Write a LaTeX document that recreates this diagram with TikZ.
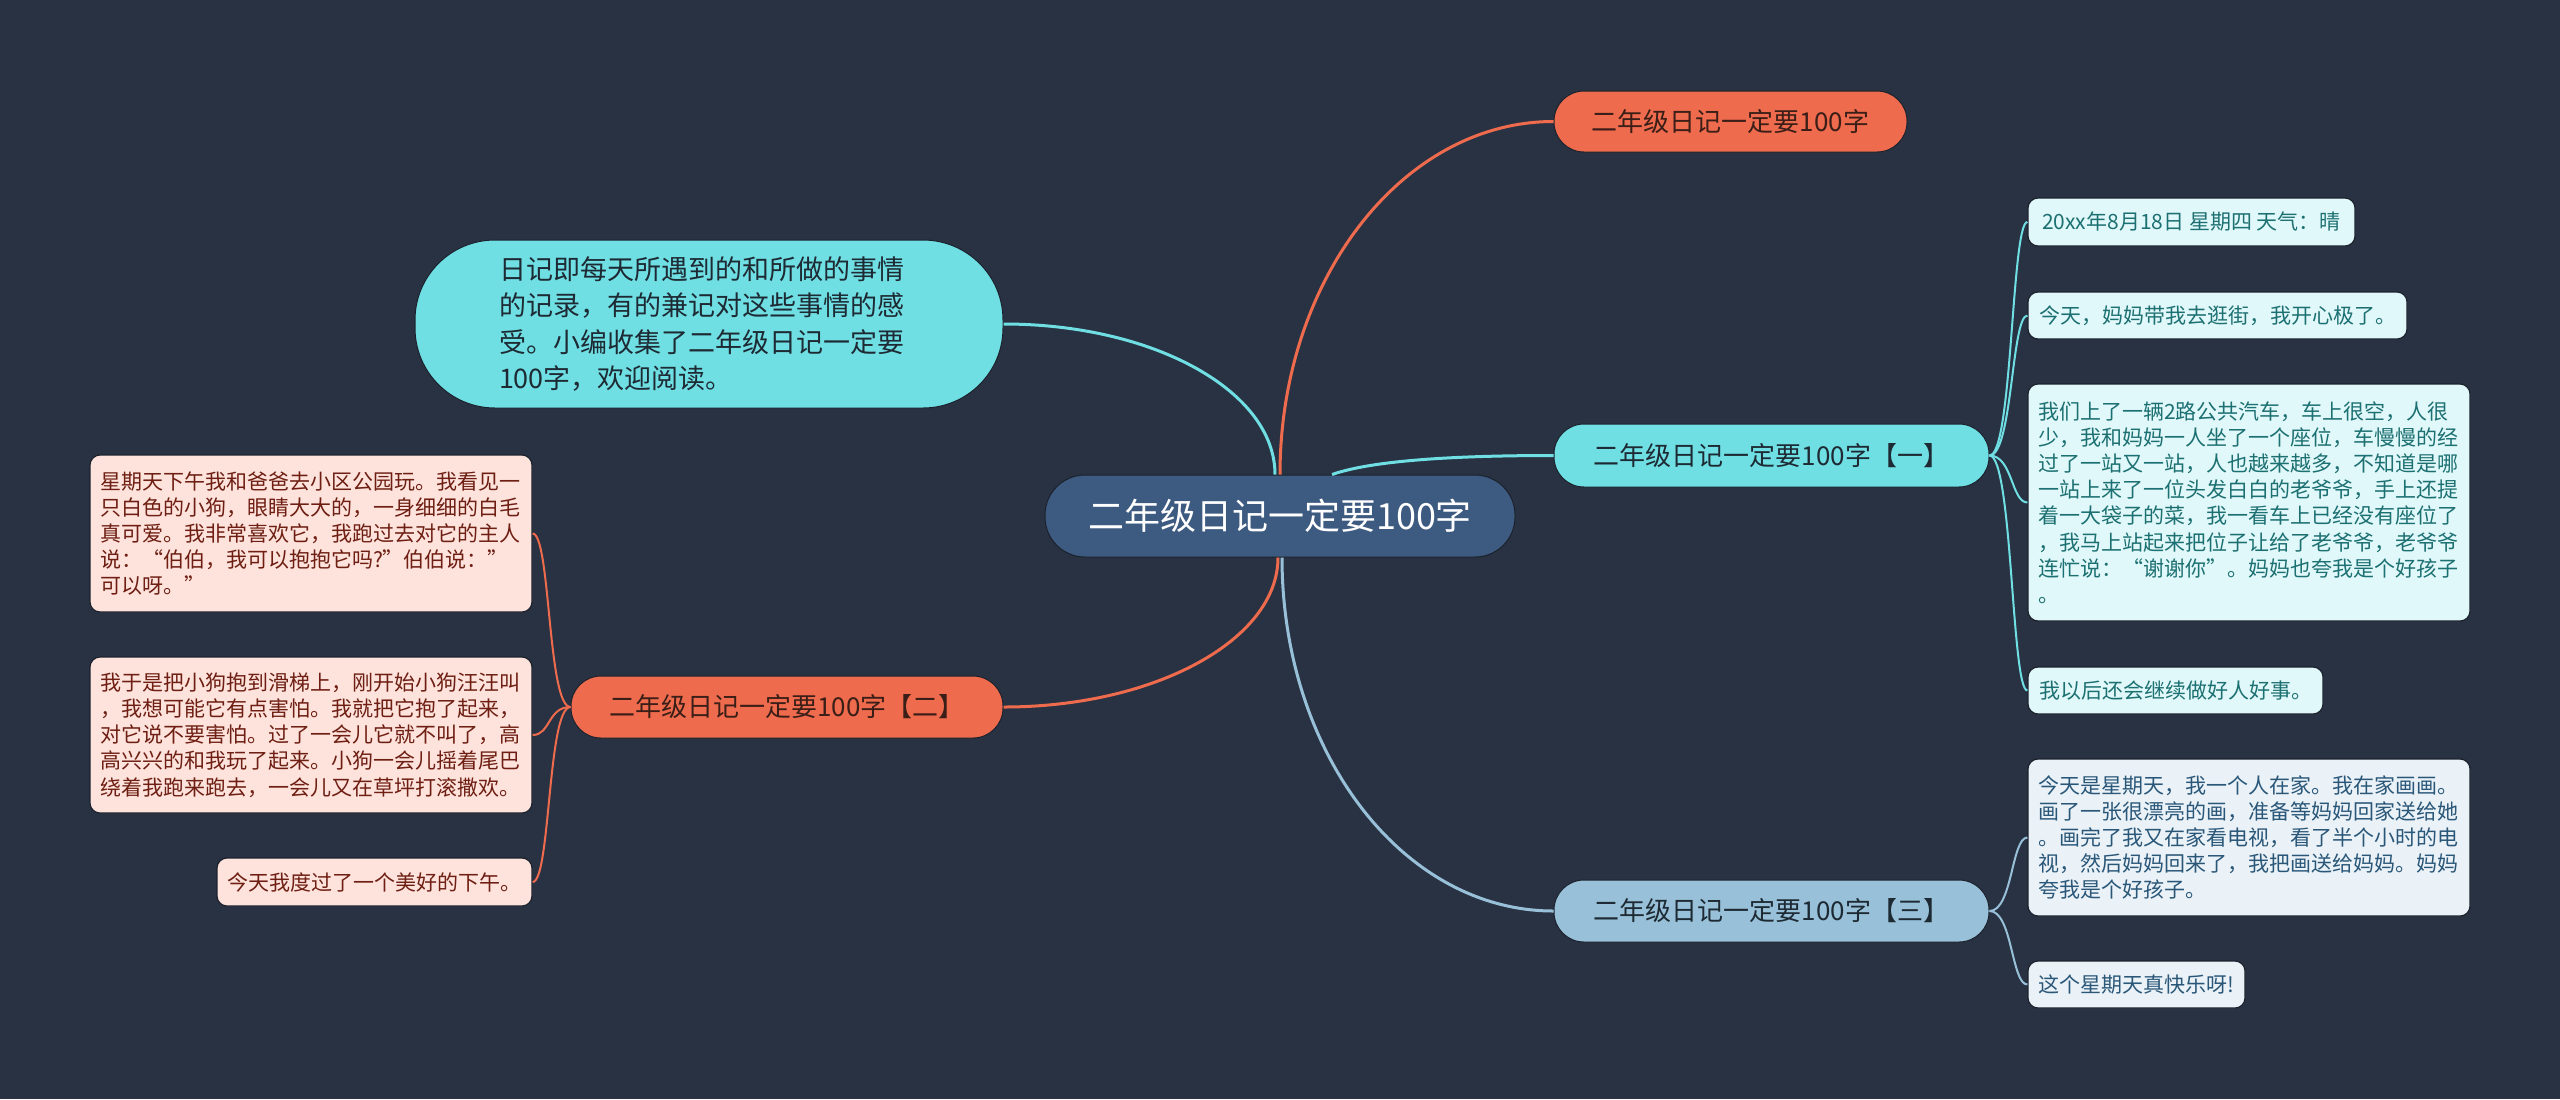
\documentclass[tikz,border=0pt]{standalone}
\usepackage{fontspec}
\setmainfont{Noto Sans CJK SC}
\definecolor{bgc}{HTML}{293242}
\definecolor{edgec}{HTML}{1C222D}
\definecolor{cfill}{HTML}{3D5A80}
\definecolor{orc}{HTML}{EE6B4D}
\definecolor{cyc}{HTML}{6FDFE4}
\definecolor{blc}{HTML}{98C1D9}
\definecolor{darkt}{HTML}{1E2A33}
\definecolor{ort}{HTML}{3A1E17}
\definecolor{lcyan}{HTML}{E0F8F9}
\definecolor{tcyan}{HTML}{1D7072}
\definecolor{lpink}{HTML}{FDE3DC}
\definecolor{tpink}{HTML}{6E1E12}
\definecolor{lblue}{HTML}{EAF2F8}
\definecolor{tblue}{HTML}{2A5778}
\tikzset{
  pill/.style={rectangle, inner sep=0pt, align=center, draw=edgec, line width=0.5pt},
  centre/.style={pill, fill=cfill, text=white, rounded corners=20pt,
    minimum width=235pt, minimum height=41pt, font=\fontsize{18pt}{21pt}\selectfont},
  orb/.style={pill, fill=orc, text=ort, rounded corners=15pt, font=\fontsize{13pt}{15pt}\selectfont},
  cyb/.style={pill, fill=cyc, text=darkt, rounded corners=15pt, font=\fontsize{13pt}{15pt}\selectfont},
  blb/.style={pill, fill=blc, text=darkt, rounded corners=15pt, font=\fontsize{13pt}{15pt}\selectfont},
  introbox/.style={rectangle, inner sep=0pt, align=left, fill=cyc, text=darkt, draw=edgec, line width=0.5pt,
    rounded corners=40pt, minimum width=294pt, minimum height=84pt, text width=210pt,
    font=\fontsize{13.5pt}{18.3pt}\selectfont},
  leaf/.style={rectangle, rounded corners=5pt, inner sep=0pt, align=left, draw=edgec, line width=0.6pt,
    font=\fontsize{10.5pt}{13.1pt}\selectfont},
  cyleaf/.style={leaf, fill=lcyan, text=tcyan},
  pkleaf/.style={leaf, fill=lpink, text=tpink},
  blleaf/.style={leaf, fill=lblue, text=tblue},
  mainline/.style={line width=1.5pt},
  leafline/.style={line width=1pt},
}
\begin{document}
\begin{tikzpicture}[x=0.5pt, y=-0.5pt]
\fill[bgc] (0,0) rectangle (2560,1099);
\useasboundingbox (0,0) rectangle (2560,1099);

% main nodes
\node[centre] (c) at (1280,516) {二年级日记一定要100字};
\node[orb, minimum width=176.5pt, minimum height=30.5pt] (top) at (1730.5,121.5) {二年级日记一定要100字};
\node[introbox] (intro) at (709,324) {日记即每天所遇到的和所做的事情\\的记录，有的兼记对这些事情的感\\受。小编收集了二年级日记一定要\\100字，欢迎阅读。};
\node[cyb, minimum width=217.5pt, minimum height=31.5pt] (one) at (1771.5,455.5) {二年级日记一定要100字【一】};
\node[orb, minimum width=216pt, minimum height=31pt] (two) at (787,707) {二年级日记一定要100字【二】};
\node[blb, minimum width=217.5pt, minimum height=31pt] (three) at (1771.5,911) {二年级日记一定要100字【三】};

% right leaves (one)
\node[cyleaf, minimum width=163.5pt, minimum height=24pt] (l1) at (2191.5,222) {20xx年8月18日 星期四 天气：晴};
\node[cyleaf, minimum width=189.5pt, minimum height=23.5pt] (l2) at (2217.5,315.5) {今天，妈妈带我去逛街，我开心极了。};
\node[cyleaf, minimum width=221pt, minimum height=118.5pt, text width=211pt] (l3) at (2249,502.5) {我们上了一辆2路公共汽车，车上很空，人很\\少，我和妈妈一人坐了一个座位，车慢慢的经\\过了一站又一站，人也越来越多，不知道是哪\\一站上来了一位头发白白的老爷爷，手上还提\\着一大袋子的菜，我一看车上已经没有座位了\\，我马上站起来把位子让给了老爷爷，老爷爷\\连忙说：“谢谢你”。妈妈也夸我是个好孩子\\。};
\node[cyleaf, minimum width=147.5pt, minimum height=23.5pt] (l4) at (2175.5,690.5) {我以后还会继续做好人好事。};

% right leaves (three)
\node[blleaf, minimum width=221pt, minimum height=78.5pt, text width=211pt] (l5) at (2249,837.5) {今天是星期天，我一个人在家。我在家画画。\\画了一张很漂亮的画，准备等妈妈回家送给她\\。画完了我又在家看电视，看了半个小时的电\\视，然后妈妈回来了，我把画送给妈妈。妈妈\\夸我是个好孩子。};
\node[blleaf, minimum width=108.5pt, minimum height=23.5pt] (l6) at (2136.5,984.5) {这个星期天真快乐呀!};

% left leaves (two)
\node[pkleaf, minimum width=221pt, minimum height=78.5pt, text width=211pt] (p1) at (311,533.5) {星期天下午我和爸爸去小区公园玩。我看见一\\只白色的小狗，眼睛大大的，一身细细的白毛\\真可爱。我非常喜欢它，我跑过去对它的主人\\说：“伯伯，我可以抱抱它吗?”伯伯说：”\\可以呀。”};
\node[pkleaf, minimum width=221pt, minimum height=78pt, text width=211pt] (p2) at (311,735) {我于是把小狗抱到滑梯上，刚开始小狗汪汪叫\\，我想可能它有点害怕。我就把它抱了起来，\\对它说不要害怕。过了一会儿它就不叫了，高\\高兴兴的和我玩了起来。小狗一会儿摇着尾巴\\绕着我跑来跑去，一会儿又在草坪打滚撒欢。};
\node[pkleaf, minimum width=157.5pt, minimum height=24pt] (p3) at (374.5,882) {今天我度过了一个美好的下午。};

% main connectors
\draw[mainline, orc] (c.north) .. controls +(0,-195) and +(-151,0) .. (top.west);
\draw[mainline, cyc] ([xshift=-2.5pt]c.north) .. controls +(0,-83) and +(151,0) .. (intro.east);
\draw[mainline, cyc] ([xshift=26pt]c.north) .. controls +(40,-14) and +(-100,0) .. (one.west);
\draw[mainline, orc] ([xshift=-1pt]c.south) .. controls +(0,82) and +(152,0) .. (two.east);
\draw[mainline, blc] ([xshift=1pt]c.south) .. controls +(0,195) and +(-151,0) .. (three.west);

% leaf connectors
\foreach \n in {l1,l2,l3,l4}
  \draw[leafline, cyc] (one.east) .. controls +(23,0) and +(-16,0) .. (\n.west);
\foreach \n in {l5,l6}
  \draw[leafline, blc] (three.east) .. controls +(23,0) and +(-16,0) .. (\n.west);
\foreach \n in {p1,p2,p3}
  \draw[leafline, orc] (two.west) .. controls +(-23,0) and +(18,0) .. (\n.east);
\end{tikzpicture}
\end{document}
